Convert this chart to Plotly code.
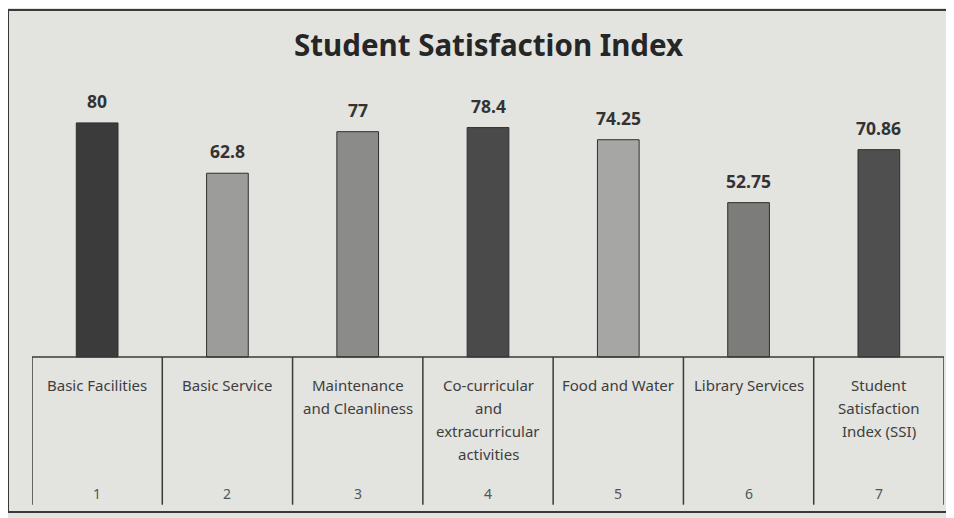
import plotly.graph_objects as go

# data
categories = ["Basic Facilities", "Basic Service", "Maintenance<br>and Cleanliness",
              "Co-curricular<br>and<br>extracurricular<br>activities", "Food and Water",
              "Library Services", "Student<br>Satisfaction<br>Index (SSI)"]
numbers = [1, 2, 3, 4, 5, 6, 7]
scores = [80, 62.8, 77, 78.4, 74.25, 52.75, 70.86]
score_labels = ["80", "62.8", "77", "78.4", "74.25", "52.75", "70.86"]
bar_colors = ["#3b3b3b", "#9c9c9a", "#8b8b89", "#4a4a4a", "#a6a6a4", "#7c7c7a", "#4f4f4f"]

BG = "#e3e3e0"
TABLE_DEPTH = -52.3   # how far the label table reaches below zero, in y units

fig = go.Figure()
fig.add_trace(go.Bar(
    x=numbers, y=scores, width=0.32,
    marker=dict(color=bar_colors, line=dict(color="#2e2e2e", width=1)),
    hoverinfo="x+y",
))

# value labels above the bars
for n, v, t in zip(numbers, scores, score_labels):
    fig.add_annotation(x=n, y=v, text="<b>%s</b>" % t, showarrow=False,
                       yanchor="bottom", yshift=8,
                       font=dict(family="Noto Sans", size=17.5, color="#333333"))

# table under the bars: top line + column dividers
fig.add_shape(type="line", xref="x", yref="y", x0=0.5, x1=7.5, y0=0, y1=0,
              line=dict(color="#3a3a3a", width=1.5))
for k in range(8):
    fig.add_shape(type="line", xref="x", yref="y", x0=k + 0.5, x1=k + 0.5,
                  y0=0, y1=TABLE_DEPTH + 1.8, line=dict(color="#3a3a3a", width=1.5))

# category names, one line at a time so the spacing matches
for n, c in zip(numbers, categories):
    for i, line in enumerate(c.split("<br>")):
        fig.add_annotation(x=n, y=-9.5 - i * 7.9, text=line, showarrow=False,
                           yanchor="middle",
                           font=dict(family="Noto Sans", size=15, color="#3e3e3e"))
    fig.add_annotation(x=n, y=-46.5, text=str(n), showarrow=False, yanchor="middle",
                       font=dict(family="Noto Sans", size=14, color="#555555"))

# outer frame of the printed chart
fig.add_shape(type="rect", xref="paper", yref="paper",
              x0=-0.0263, x1=1.03, y0=-0.0044, y1=1.111,
              line=dict(color="#3a3a3a", width=2))

fig.update_layout(
    width=946, height=510,
    margin=dict(l=24, r=10, t=52, b=8),
    paper_bgcolor=BG, plot_bgcolor=BG,
    title=dict(text="<b>Student Satisfaction Index</b>", x=0.508, xanchor="center",
               y=0.927, yanchor="middle",
               font=dict(family="Noto Sans", size=29.5, color="#262626")),
    showlegend=False,
    xaxis=dict(range=[0.5, 7.5], visible=False, fixedrange=True),
    yaxis=dict(range=[TABLE_DEPTH, 101.5], visible=False, fixedrange=True),
)

fig.write_html("out.html")
